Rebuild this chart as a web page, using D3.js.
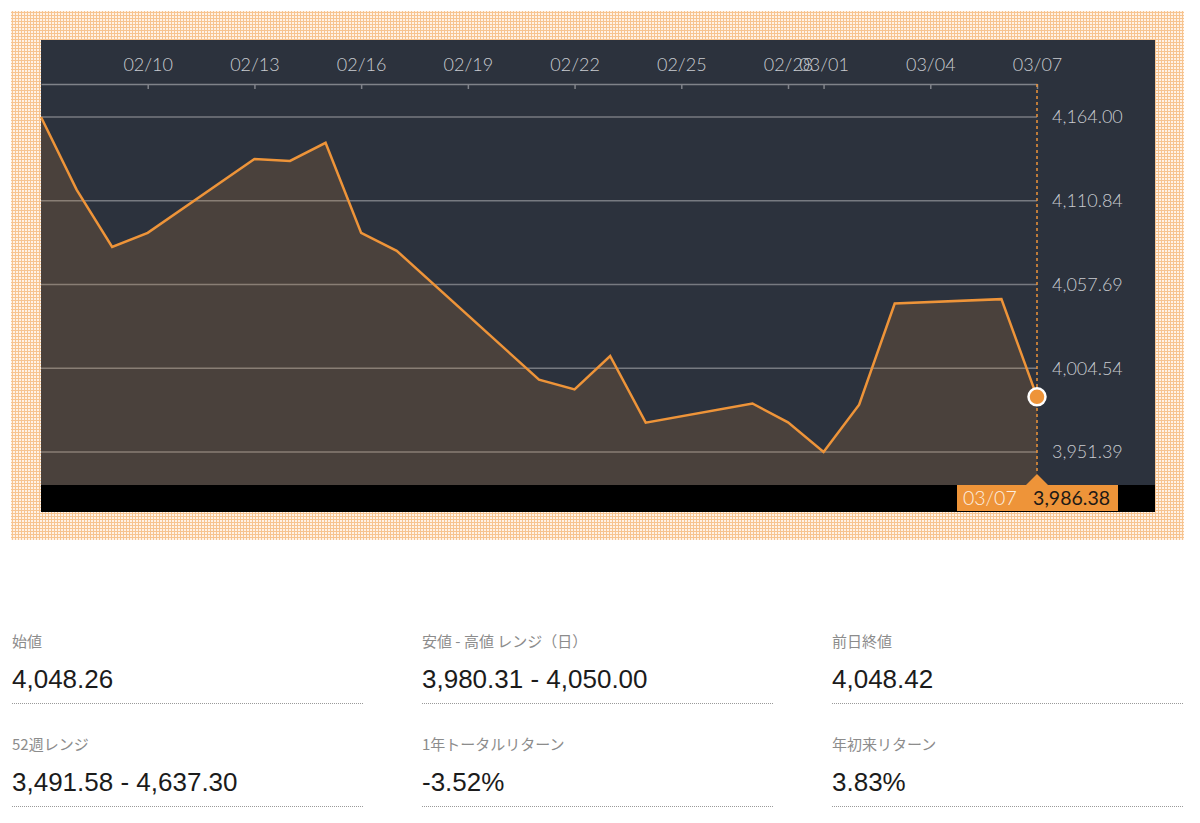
<!DOCTYPE html>
<html>
  <head>
    <meta charset="utf-8">
    <script src="https://d3js.org/d3.v7.min.js"></script>
    <title>Index chart</title>
    <style>
      body {
        margin: 0px;
        background: #ffffff;
      }
      .axis text {
        font-family: Lato, "Open Sans", sans-serif;
        font-weight: 300;
        font-size: 18px;
        fill: #c9ccd1;
      }
      .x-axis .domain, .x-axis line {
        stroke: #80838a;
        stroke-width: 1.5;
      }
      .y-axis .domain {
        display: none;
      }
      .stat-label {
        font-family: "Noto Sans CJK JP", sans-serif;
        font-size: 15px;
        fill: #8c8c8c;
      }
      .stat-value {
        font-family: "Liberation Sans", Arial, sans-serif;
        font-size: 26px;
        fill: #1b1b1b;
      }
    </style>
  </head>
  <body>
    <svg width="1200" height="823"></svg>
    <script>
      const dates = ['2023-02-07', '2023-02-08', '2023-02-09', '2023-02-10', '2023-02-13',
        '2023-02-14', '2023-02-15', '2023-02-16', '2023-02-17', '2023-02-21',
        '2023-02-22', '2023-02-23', '2023-02-24', '2023-02-27', '2023-02-28',
        '2023-03-01', '2023-03-02', '2023-03-03', '2023-03-06', '2023-03-07'];
      const closes = [4164.00, 4117.9, 4081.5, 4090.5, 4137.3,
        4136.1, 4147.6, 4090.4, 4079.1, 3997.3,
        3991.1, 4012.3, 3970.0, 3982.2, 3970.2,
        3951.39, 3981.4, 4045.6, 4048.4, 3986.38];
      const xTickDates = ['2023-02-10', '2023-02-13', '2023-02-16', '2023-02-19', '2023-02-22',
        '2023-02-25', '2023-02-28', '2023-03-01', '2023-03-04', '2023-03-07'];
      const yTickValues = [3951.39, 4004.54, 4057.69, 4110.84, 4164.00];
      const xStart = '2023-02-07';

      const statLabels = ['始値', '安値 - 高値 レンジ（日）', '前日終値',
        '52週レンジ', '1年トータルリターン', '年初来リターン'];
      const statValues = ['4,048.26', '3,980.31 - 4,050.00', '4,048.42',
        '3,491.58 - 4,637.30', '-3.52%', '3.83%'];

      const parseDate = d3.timeParse('%Y-%m-%d');
      const data = dates.map((d, i) => ({ date: parseDate(d), value: closes[i] }));
      const last = data[data.length - 1];

      const orange = '#ee9439';
      const panel = { left: 41, top: 40, right: 1155, bottom: 485 };
      const plotRight = 1037;
      const headerY = 84;

      const svg = d3.select('svg');

      // checkered backdrop
      const defs = svg.append('defs');
      const pat = defs.append('pattern')
          .attr('id', 'check')
          .attr('width', 3)
          .attr('height', 3)
          .attr('patternUnits', 'userSpaceOnUse');
      pat.append('rect').attr('width', 3).attr('height', 3).attr('fill', '#fff2e6');
      pat.append('rect').attr('width', 3).attr('height', 1).attr('fill', '#f7c490');
      pat.append('rect').attr('width', 1).attr('height', 3).attr('fill', '#f7c490');

      svg.append('rect')
          .attr('x', 11).attr('y', 11)
          .attr('width', 1173).attr('height', 529)
          .attr('fill', 'url(#check)');

      svg.append('rect')
          .attr('x', panel.left).attr('y', panel.top)
          .attr('width', panel.right - panel.left)
          .attr('height', panel.bottom - panel.top)
          .attr('fill', '#2c323d');

      svg.append('rect')
          .attr('x', panel.left).attr('y', panel.bottom)
          .attr('width', panel.right - panel.left)
          .attr('height', 27)
          .attr('fill', '#000');

      const x = d3.scaleTime()
        .domain([parseDate(xStart), last.date])
        .range([panel.left, plotRight]);

      const y = d3.scaleLinear()
        .domain(d3.extent(yTickValues))
        .range([452, 117]);

      // grid
      svg.append('g')
        .selectAll('line').data(yTickValues)
        .enter().append('line')
          .attr('x1', panel.left)
          .attr('x2', plotRight)
          .attr('y1', d => y(d))
          .attr('y2', d => y(d))
          .attr('stroke', '#777a81')
          .attr('stroke-width', 1.5);

      const area = d3.area()
        .x(d => x(d.date))
        .y0(panel.bottom)
        .y1(d => y(d.value));

      const line = d3.line()
        .x(d => x(d.date))
        .y(d => y(d.value));

      svg.append('path')
          .datum(data)
          .attr('d', area)
          .attr('fill', orange)
          .attr('fill-opacity', 0.16);

      // date axis along the top
      svg.append('g')
          .attr('class', 'axis x-axis')
          .attr('transform', `translate(0,${headerY})`)
          .call(d3.axisTop(x)
            .tickValues(xTickDates.map(parseDate))
            .tickFormat(d3.timeFormat('%m/%d'))
            .tickSizeInner(-5)
            .tickSizeOuter(0)
            .tickPadding(13));

      svg.append('g')
          .attr('class', 'axis y-axis')
          .attr('transform', `translate(${plotRight},0)`)
          .call(d3.axisRight(y)
            .tickValues(yTickValues)
            .tickFormat(d3.format(',.2f'))
            .tickSize(0)
            .tickPadding(15));

      // crosshair at last point
      const lx = x(last.date);
      svg.append('line')
          .attr('x1', lx).attr('x2', lx)
          .attr('y1', headerY).attr('y2', 474)
          .attr('stroke', orange)
          .attr('stroke-width', 1.5)
          .attr('stroke-dasharray', '3,3');

      svg.append('path')
          .datum(data)
          .attr('d', line)
          .attr('fill', 'none')
          .attr('stroke', orange)
          .attr('stroke-width', 2.5)
          .attr('stroke-linejoin', 'miter');

      svg.append('circle')
          .attr('cx', lx)
          .attr('cy', y(last.value))
          .attr('r', 8.5)
          .attr('fill', orange)
          .attr('stroke', '#fff')
          .attr('stroke-width', 2.5);

      // value tag
      const tag = svg.append('g');
      tag.append('rect')
          .attr('x', lx - 80).attr('y', panel.bottom)
          .attr('width', 161).attr('height', 26)
          .attr('fill', orange);
      tag.append('path')
          .attr('d', `M${lx - 11},${panel.bottom} L${lx},474 L${lx + 11},${panel.bottom} Z`)
          .attr('fill', orange);
      tag.append('text')
          .attr('x', lx - 74).attr('y', panel.bottom + 20)
          .attr('font-family', 'Lato, sans-serif')
          .attr('font-weight', 300)
          .attr('font-size', 19.5)
          .attr('fill', '#fcefe2')
          .text(d3.timeFormat('%m/%d')(last.date));
      tag.append('text')
          .attr('x', lx + 73).attr('y', panel.bottom + 20)
          .attr('text-anchor', 'end')
          .attr('font-family', 'Lato, sans-serif')
          .attr('font-weight', 400)
          .attr('font-size', 19.5)
          .attr('fill', '#1e1a16')
          .text(d3.format(',.2f')(last.value));

      // stats block
      const colX = [12, 422, 832];
      const colW = 351;
      const rowY = [642, 745];
      const stats = svg.append('g')
        .selectAll('g').data(statLabels)
        .enter().append('g')
          .attr('transform', (d, i) => `translate(${colX[i % 3]},${rowY[Math.floor(i / 3)]})`);

      stats.append('text')
          .attr('class', 'stat-label')
          .attr('dy', '0.35em')
          .text(d => d);

      stats.append('text')
          .attr('class', 'stat-value')
          .attr('y', 37)
          .attr('dy', '0.35em')
          .text((d, i) => statValues[i]);

      stats.append('line')
          .attr('x1', 0).attr('x2', colW)
          .attr('y1', 61.5).attr('y2', 61.5)
          .attr('stroke', '#9a9a9a')
          .attr('stroke-width', 1)
          .attr('stroke-dasharray', '1,1');
    </script>
  </body>
</html>
